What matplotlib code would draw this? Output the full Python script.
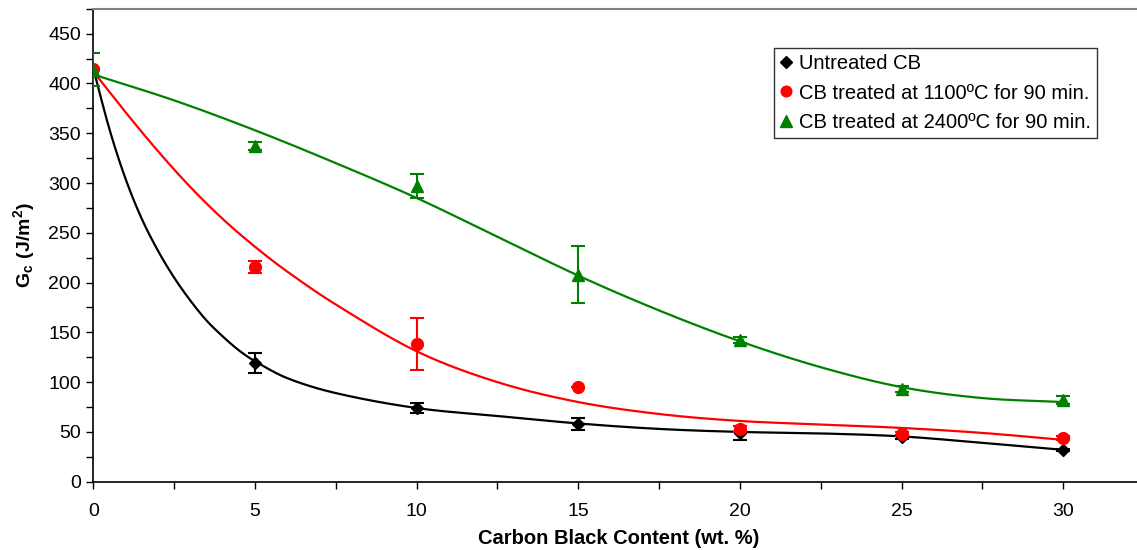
import numpy as np
import matplotlib
matplotlib.use("Agg")
import matplotlib.pyplot as plt
from matplotlib.ticker import MultipleLocator

plt.rcParams['font.family'] = ['Liberation Sans', 'DejaVu Sans']
plt.rcParams['mathtext.fontset'] = 'custom'
plt.rcParams['mathtext.rm'] = 'Liberation Sans'
plt.rcParams['mathtext.bf'] = 'Liberation Sans:bold'

# ---- data ----
cb_content = [0, 5, 10, 15, 20, 25, 30]

untreated = [415, 119, 74, 58, 49, 45, 32]
untreated_err = [0, 10, 5, 6, 7, 2, 1]

treated_1100 = [415, 216, 138, 95, 53, 48, 44]
treated_1100_err = [0, 6, 26, 0, 3, 2, 2]

treated_2400 = [414, 337, 297, 208, 142, 93, 82]
treated_2400_err = [17, 4, 12, 29, 3, 3, 4]

# trend curves (knots)
black_fit_x = [0, 0.5, 1, 1.5, 2, 2.5, 3, 3.5, 4, 4.5, 5, 6, 7.5, 10, 12.5, 15, 17.5, 20, 22.5, 25, 27.5, 30]
black_fit_y = [415, 354, 304, 264, 232, 205, 182, 162, 146, 132, 121, 104, 89, 74, 66, 58.5, 53, 50, 48.5, 45.5, 39, 32]
red_fit_x = [0, 1, 2, 3, 4, 5, 6, 7.5, 10, 12.5, 15, 17.5, 20, 22.5, 25, 27.5, 30]
red_fit_y = [412, 371, 332, 296, 264, 236, 211, 178, 131, 100, 80, 68, 61, 57.5, 54, 49, 42]
green_fit_x = [0, 2.5, 5, 7.5, 10, 12.5, 15, 17.5, 20, 22.5, 25, 27.5, 30]
green_fit_y = [409, 383, 353, 320, 285, 246, 207, 172, 141, 115, 95, 84, 80]

labels = ["Untreated CB", "CB treated at 1100ºC for 90 min.", "CB treated at 2400ºC for 90 min."]


def smooth(xk, yk, n=500):
    xk = np.asarray(xk, float)
    yk = np.asarray(yk, float)
    m = np.zeros_like(yk)
    m[1:-1] = (yk[2:] - yk[:-2]) / (xk[2:] - xk[:-2])
    m[0] = (yk[1] - yk[0]) / (xk[1] - xk[0])
    m[-1] = (yk[-1] - yk[-2]) / (xk[-1] - xk[-2])
    xs = np.linspace(xk[0], xk[-1], n)
    idx = np.clip(np.searchsorted(xk, xs) - 1, 0, len(xk) - 2)
    h = xk[idx + 1] - xk[idx]
    t = (xs - xk[idx]) / h
    h00 = 2 * t**3 - 3 * t**2 + 1
    h10 = t**3 - 2 * t**2 + t
    h01 = -2 * t**3 + 3 * t**2
    h11 = t**3 - t**2
    ys = h00 * yk[idx] + h10 * h * m[idx] + h01 * yk[idx + 1] + h11 * h * m[idx + 1]
    return xs, ys


W, H = 1137, 550
fig = plt.figure(figsize=(W / 100, H / 100), dpi=100)
x0_px, y0_px = 93.3, 481.7
px_per_x = 32.33
xmax = 32.5
ymax = 475
px_per_y = 0.9956
ax = fig.add_axes([x0_px / W, 1 - y0_px / H, xmax * px_per_x / W, ymax * px_per_y / H])

colors = ["#000000", "#FF0000", "#008000"]
markers = ["D", "o", "^"]
msizes = [6.5, 8.5, 9]
series = [untreated, treated_1100, treated_2400]
errs = [untreated_err, treated_1100_err, treated_2400_err]
fits = [(black_fit_x, black_fit_y), (red_fit_x, red_fit_y), (green_fit_x, green_fit_y)]

for (fx, fy), c in zip(fits, colors):
    xs, ys = smooth(fx, fy)
    ax.plot(xs, ys, color=c, lw=1.6, zorder=2)

handles = []
for s, e, c, mk, ms, lab in zip(series, errs, colors, markers, msizes, labels):
    ax.errorbar(cb_content, s, yerr=e, fmt='none', ecolor=c, elinewidth=1.5,
                capsize=5, capthick=1.5, zorder=3)
    h, = ax.plot(cb_content, s, linestyle='none', marker=mk, color=c,
                 markersize=ms, markeredgecolor=c, zorder=4, label=lab)
    handles.append(h)

ax.set_xlim(0, xmax)
ax.set_ylim(0, ymax)
ax.xaxis.set_minor_locator(MultipleLocator(2.5))
ax.yaxis.set_minor_locator(MultipleLocator(25))
ax.set_xticks([0, 5, 10, 15, 20, 25, 30])
ax.set_yticks(np.arange(0, 451, 50))
ax.tick_params(axis='both', which='both', direction='out', labelsize=14, width=1, colors='black')
ax.tick_params(axis='both', which='both', length=5)
ax.tick_params(axis='x', pad=10)
ax.tick_params(axis='y', pad=4)

for sp in ['left', 'bottom']:
    ax.spines[sp].set_color('black')
    ax.spines[sp].set_linewidth(1.2)
ax.spines['top'].set_color('#808080')
ax.spines['top'].set_linewidth(1.5)
ax.spines['right'].set_visible(False)

ax.set_xlabel("Carbon Black Content (wt. %)", fontsize=14.5, fontweight='bold', labelpad=7)
ax.set_ylabel(r"$\mathbf{G_c\ (J/m^2)}$", fontsize=14, labelpad=8)

leg = ax.legend(handles=handles, loc='upper left',
                bbox_to_anchor=((774 - x0_px) / (xmax * px_per_x), 1 - (49 - 9.4) / (ymax * px_per_y)),
                fontsize=14.5, frameon=True, fancybox=False, edgecolor='black',
                handlelength=0.6, handletextpad=0.35, borderpad=0.3, labelspacing=0.5,
                borderaxespad=0, markerscale=0.9)
leg.get_frame().set_linewidth(1.0)

fig.savefig("out.png", dpi=100)
